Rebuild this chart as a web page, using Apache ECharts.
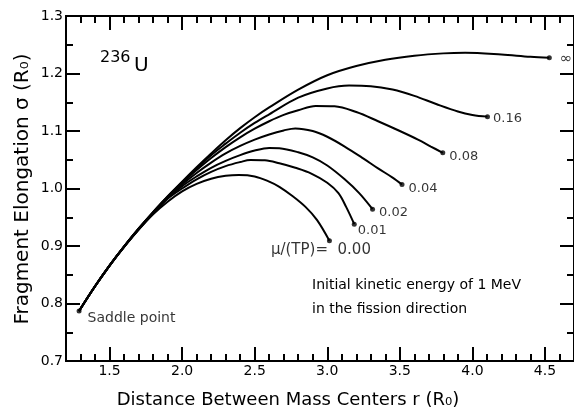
<!DOCTYPE html>
<html>
<head>
<meta charset="utf-8">
<script src="https://cdn.jsdelivr.net/npm/echarts@6/dist/echarts.min.js"></script>
<style>
  html, body { margin: 0; padding: 0; background: #fff; }
  #chart { width: 574px; height: 415px; }
</style>
</head>
<body>
<div id="chart"></div>
<script>
// Tick labels shown on the axes
const xTickLabels = ['1.5', '2.0', '2.5', '3.0', '3.5', '4.0', '4.5'];
const yTickLabels = ['0.7', '0.8', '0.9', '1.0', '1.1', '1.2', '1.3'];

// Friction parameter mu/(TP) of each trajectory (label at the scission end)
const ratioLabels = ['\u221e', '0.16', '0.08', '0.04', '0.02', '0.01', '\u03bc/(TP)=  0.00'];

// Trajectories: [r (R0), sigma (R0)], from the saddle point to scission
const curveInf = [[1.29,0.787],[1.4,0.830],[1.5,0.866],[1.6,0.899],[1.7,0.930],[1.8,0.959],[1.9,0.986],[2.0,1.012],[2.1,1.037],[2.2,1.061],[2.3,1.084],[2.4,1.105],[2.5,1.124],[2.6,1.141],[2.8,1.172],[3.0,1.197],[3.2,1.213],[3.4,1.224],[3.6,1.231],[3.8,1.235],[3.95,1.236],[4.2,1.233],[4.4,1.229],[4.53,1.2275]];
const curve016 = [[1.29,0.787],[1.4,0.830],[1.5,0.866],[1.6,0.899],[1.7,0.930],[1.8,0.959],[1.9,0.986],[2.0,1.011],[2.1,1.035],[2.2,1.058],[2.3,1.078],[2.4,1.097],[2.5,1.114],[2.6,1.129],[2.8,1.158],[3.0,1.174],[3.15,1.179],[3.3,1.178],[3.45,1.172],[3.6,1.161],[3.75,1.147],[3.9,1.134],[4.0,1.128],[4.104,1.125]];
const curve008 = [[1.29,0.787],[1.4,0.830],[1.5,0.866],[1.6,0.899],[1.7,0.930],[1.8,0.958],[1.9,0.985],[2.0,1.009],[2.1,1.032],[2.2,1.053],[2.3,1.072],[2.4,1.089],[2.5,1.104],[2.6,1.117],[2.7,1.128],[2.8,1.136],[2.92,1.1435],[3.05,1.143],[3.2,1.133],[3.35,1.117],[3.5,1.100],[3.625,1.085],[3.714,1.073],[3.796,1.062]];
const curve004 = [[1.29,0.787],[1.4,0.830],[1.5,0.866],[1.6,0.899],[1.7,0.929],[1.8,0.958],[1.9,0.984],[2.0,1.007],[2.1,1.027],[2.2,1.045],[2.3,1.061],[2.4,1.074],[2.5,1.085],[2.6,1.094],[2.7,1.101],[2.78,1.1045],[2.9,1.100],[3.0,1.090],[3.12,1.073],[3.25,1.052],[3.35,1.035],[3.45,1.019],[3.515,1.007]];
const curve002 = [[1.29,0.787],[1.4,0.830],[1.5,0.866],[1.6,0.899],[1.7,0.929],[1.8,0.957],[1.9,0.983],[2.0,1.004],[2.1,1.021],[2.2,1.036],[2.3,1.048],[2.4,1.058],[2.5,1.066],[2.6,1.0705],[2.67,1.070],[2.8,1.063],[2.9,1.054],[3.0,1.040],[3.12,1.016],[3.22,0.992],[3.312,0.964]];
const curve001 = [[1.29,0.787],[1.4,0.830],[1.5,0.866],[1.6,0.899],[1.7,0.929],[1.8,0.957],[1.9,0.982],[2.0,1.000],[2.1,1.016],[2.2,1.029],[2.3,1.039],[2.4,1.046],[2.47,1.0496],[2.57,1.049],[2.67,1.0438],[2.78,1.036],[2.89,1.026],[3.0,1.010],[3.077,0.992],[3.13,0.968],[3.186,0.938]];
const curve000 = [[1.29,0.787],[1.4,0.830],[1.5,0.866],[1.6,0.898],[1.7,0.928],[1.8,0.955],[1.9,0.977],[2.0,0.995],[2.1,1.008],[2.2,1.017],[2.3,1.022],[2.39,1.0235],[2.5,1.021],[2.6,1.012],[2.67,1.003],[2.76,0.987],[2.85,0.968],[2.93,0.945],[3.015,0.909]];

const curves = [curveInf, curve016, curve008, curve004, curve002, curve001, curve000];

const FONT = 'DejaVu Sans';
const INK = '#000';

// Placement of each end label next to its scission point
const endLabelStyle = [
  { position: 'right', distance: 8, offset: [0, 1], fontSize: 15 },
  { position: 'right', distance: 3, offset: [0, 2] },
  { position: 'right', distance: 4, offset: [0, 4] },
  { position: 'right', distance: 4, offset: [0, 4] },
  { position: 'right', distance: 4, offset: [0, 3] },
  { position: 'right', distance: 1, offset: [0, 6] },
  { position: 'right', distance: 0, align: 'right', offset: [39, 9], fontSize: 15 }
];

function fmt1(v) { return (Math.round(v * 10) / 10).toFixed(1); }

// x axes: long ticks + labels every 0.5, short ticks every 0.1 (bottom and top)
function xAxisDef(position, major, labelled) {
  const ax = {
    type: 'value', position: position, min: 1.2, max: 4.7,
    axisLine: { show: true, onZero: false, lineStyle: { color: INK, width: 2 } },
    axisTick: { show: true, inside: true, length: major ? 14 : 7, lineStyle: { color: INK, width: 2 } },
    axisLabel: {
      show: labelled, margin: 3, color: INK, fontFamily: FONT, fontSize: 14,
      showMinLabel: false, showMaxLabel: false,
      formatter: v => xTickLabels.includes(fmt1(v)) ? fmt1(v) : ''
    },
    splitLine: { show: false }
  };
  if (major) ax.splitNumber = 7; else ax.interval = 0.1;
  return ax;
}

// y axes: long ticks every 0.1, short ticks every 0.05
function yAxisDef(position, labelled) {
  return {
    type: 'value', position: position, min: 0.7, max: 1.3, interval: 0.1,
    axisLine: { show: true, onZero: false, lineStyle: { color: INK, width: 2 } },
    axisTick: { show: true, inside: true, length: 14, lineStyle: { color: INK, width: 2 } },
    minorTick: { show: true, splitNumber: 2, length: 7, lineStyle: { color: INK, width: 2 } },
    axisLabel: {
      show: labelled, margin: 3, color: INK, fontFamily: FONT, fontSize: 14,
      formatter: v => yTickLabels.includes(fmt1(v)) ? fmt1(v) : ''
    },
    splitLine: { show: false }
  };
}

const series = curves.map(c => ({
  type: 'line', data: c, smooth: 0.35, showSymbol: false, silent: true,
  xAxisIndex: 0, yAxisIndex: 0,
  lineStyle: { color: INK, width: 2 }, z: 3
}));

// Scission points with their mu/(TP) labels
series.push({
  type: 'scatter', xAxisIndex: 0, yAxisIndex: 0, symbolSize: 5, z: 4,
  itemStyle: { color: INK },
  data: curves.map((c, i) => ({
    value: c[c.length - 1],
    label: Object.assign({
      show: true, formatter: ratioLabels[i], color: INK, fontFamily: FONT, fontSize: 13
    }, endLabelStyle[i])
  }))
});

// Saddle point (common starting point)
series.push({
  type: 'scatter', xAxisIndex: 0, yAxisIndex: 0, symbolSize: 5, z: 4,
  itemStyle: { color: INK },
  data: [{
    value: curveInf[0],
    label: { show: true, formatter: 'Saddle point', position: 'right', distance: 6, offset: [0, 7],
             color: INK, fontFamily: FONT, fontSize: 14 }
  }]
});

const chart = echarts.init(document.getElementById('chart'), null, { renderer: 'canvas' });
chart.setOption({
  animation: false,
  backgroundColor: '#fff',
  grid: { left: 66, top: 16, width: 510, height: 345, containLabel: false },
  xAxis: [
    xAxisDef('bottom', true, true),
    xAxisDef('bottom', false, false),
    xAxisDef('top', true, false),
    xAxisDef('top', false, false)
  ],
  yAxis: [yAxisDef('left', true), yAxisDef('right', false)],
  series: series,
  graphic: [
    { type: 'text', x: 288, y: 400, style: { text: 'Distance Between Mass Centers r (R\u2080)', font: '18px "DejaVu Sans"', fill: INK, align: 'center', verticalAlign: 'middle' } },
    { type: 'text', x: 23, y: 189, rotation: Math.PI / 2, style: { text: 'Fragment Elongation \u03c3 (R\u2080)', font: '20px "DejaVu Sans"', fill: INK, align: 'center', verticalAlign: 'middle' } },
    { type: 'text', x: 100, y: 58, style: { text: '236', font: '16px "DejaVu Sans"', fill: INK, verticalAlign: 'middle' } },
    { type: 'text', x: 134, y: 66, style: { text: 'U', font: '20px "DejaVu Sans"', fill: INK, verticalAlign: 'middle' } },
    { type: 'text', x: 312, y: 285, style: { text: 'Initial kinetic energy of 1 MeV', font: '14px "DejaVu Sans"', fill: INK, verticalAlign: 'middle' } },
    { type: 'text', x: 312, y: 309, style: { text: 'in the fission direction', font: '14px "DejaVu Sans"', fill: INK, verticalAlign: 'middle' } }
  ]
});
</script>
</body>
</html>
